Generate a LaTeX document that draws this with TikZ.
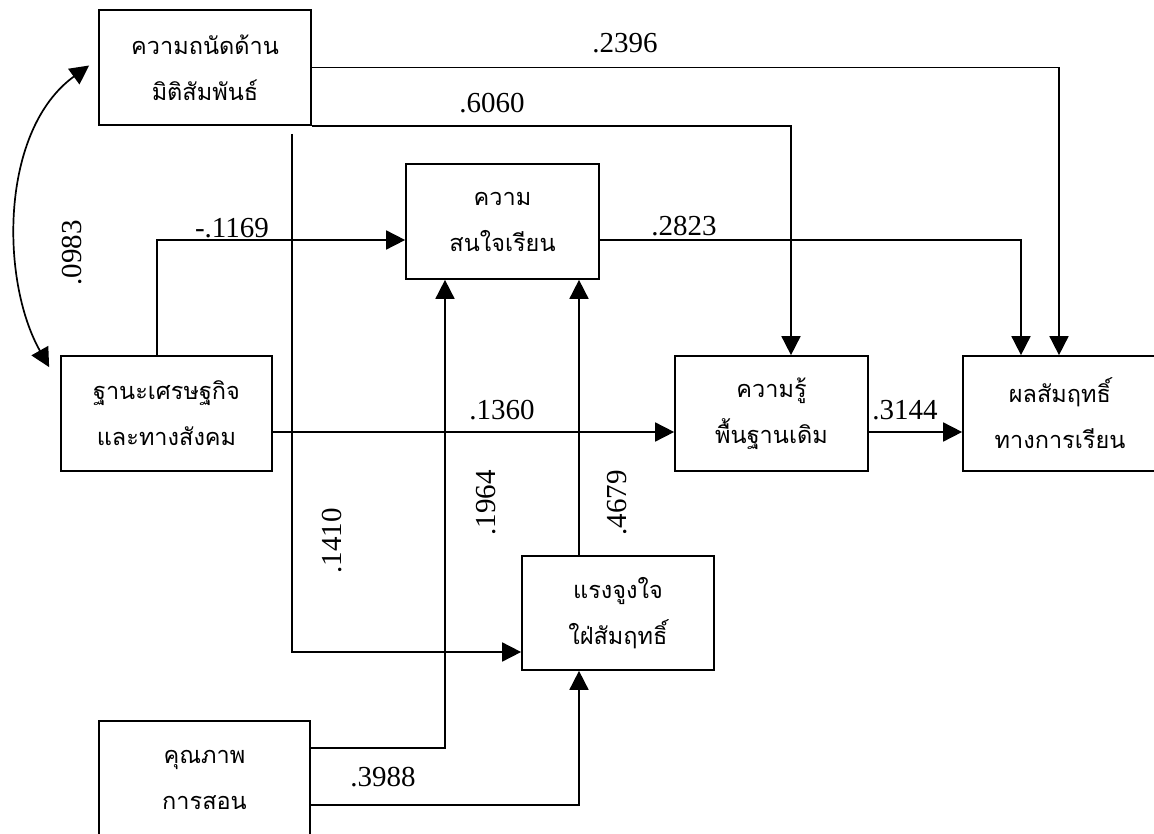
\documentclass[tikz,border=0pt]{standalone}
\usepackage{fontspec}
\setmainfont{Liberation Serif}
\newfontfamily\thaifont[Script=Thai]{Loma}
\usetikzlibrary{arrows.meta}
\begin{document}
\begin{tikzpicture}[x=1pt,y=-1pt,
  box/.style={draw, line width=1.7pt, inner sep=0pt, align=center,
    font=\thaifont\fontsize{23.5}{46}\selectfont},
  conn/.style={line width=1.7pt},
  arr/.style={conn, -{Triangle[length=19pt,width=19pt]}},
  darr/.style={conn, {Triangle[length=19pt,width=19pt]}-{Triangle[length=19pt,width=19pt]}},
  lab/.style={font=\fontsize{29}{30}\selectfont, inner sep=0pt}]
\useasboundingbox (0,0) rectangle (1154,834);
\clip (0,0) rectangle (1154,834);
% boxes
\node[box, minimum width=212pt, minimum height=115pt] (A) at (205,67.5) {ความถนัดด้าน\\มิติสัมพันธ์};
\node[box, minimum width=193pt, minimum height=115pt] (B) at (502.5,221.5) {ความ\\สนใจเรียน};
\node[box, minimum width=211pt, minimum height=115pt] (C) at (166.5,413.5) {ฐานะเศรษฐกิจ\\และทางสังคม};
\node[box, minimum width=193pt, minimum height=115pt] (D) at (771.5,413.5) {ความรู้\\พื้นฐานเดิม};
\node[box, minimum width=194pt, minimum height=115pt] (E) at (1060,413.5) {ผลสัมฤทธิ์\\ทางการเรียน};
\node[box, minimum width=192pt, minimum height=114pt] (F) at (618,613) {แรงจูงใจ\\ใฝ่สัมฤทธิ์};
\node[box, minimum width=211pt, minimum height=118pt] (G) at (204.5,780) {คุณภาพ\\การสอน};
% connectors
\draw[arr] (A.east) -| ([xshift=-1pt]E.north);
\draw[arr] (A.south east) -| ([xshift=19.5pt]D.north);
\draw[arr] ([xshift=87pt,yshift=-8pt]A.south) |- ([yshift=-39pt]F.west);
\draw[arr] ([xshift=-9.5pt]C.north) |- ([yshift=-18.5pt]B.west);
\draw[arr] ([yshift=-18.5pt]B.east) -| ([xshift=-39pt]E.north);
\draw[arr] ([yshift=-18.5pt]C.east) -- ([yshift=-18.5pt]D.west);
\draw[arr] ([yshift=-18.5pt]D.east) -- ([yshift=-18.5pt]E.west);
\draw[arr] ([yshift=32pt]G.east) -| ([xshift=-57.5pt]B.south);
\draw[arr] ([xshift=-39pt]F.north) -- ([xshift=76.5pt]B.south);
\draw[arr] ([yshift=-25pt]G.east) -| ([xshift=-39pt]F.south);
\draw[darr] ([xshift=-11pt,yshift=-12pt]C.north west) .. controls (0,280) and (0,130) .. ([xshift=-9pt,yshift=2pt]A.west);
% labels
\node[lab] (l2396) at (625,43) {.2396};
\node[lab] (l6060) at (492,103) {.6060};
\node[lab] (l2823) at (684,226) {.2823};
\node[lab] (l1169) at (232,228) {-.1169};
\node[lab] (l1360) at (502,410) {.1360};
\node[lab] (l3144) at (905,410) {.3144};
\node[lab] (l3988) at (383,777) {.3988};
\node[lab, rotate=90] (l0983) at (72,253) {.0983};
\node[lab, rotate=90] (l1410) at (332,541) {.1410};
\node[lab, rotate=90] (l1964) at (486,503) {.1964};
\node[lab, rotate=90] (l4679) at (617,503) {.4679};
\end{tikzpicture}
\end{document}
